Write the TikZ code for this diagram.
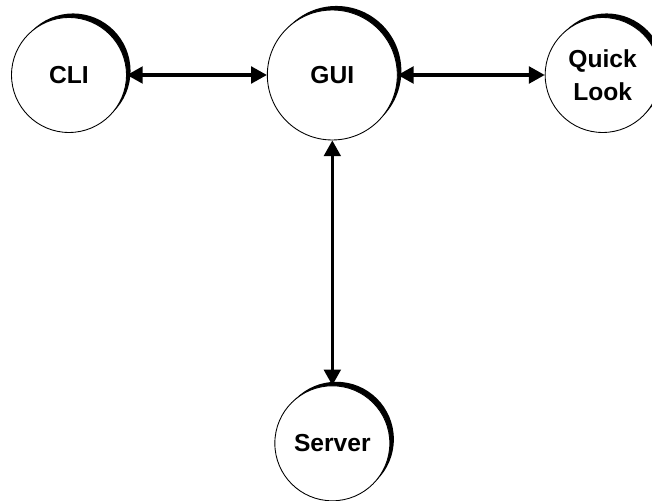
\documentclass[tikz,border=0pt]{standalone}
\usepackage{fontspec}
\setmainfont{Liberation Sans}
\usetikzlibrary{arrows.meta,positioning,shadows}

\begin{document}
\begin{tikzpicture}[
		x=0.02cm, y=-0.02cm,
		>={Triangle[length=9pt,width=9.5pt]},
		font=\fontsize{14}{18.5}\selectfont\bfseries,
		comp/.style={
			circle, draw, line width=0.5pt, fill=white,
			minimum size=2.3cm, inner sep=0pt, align=center,
			drop shadow={shadow xshift=2.3pt, shadow yshift=2.3pt, fill=black, opacity=1}
		},
		link/.style={<->, line width=1.8pt}
		]
		\useasboundingbox (0,0) rectangle (652,500);
		% ---- obere Reihe
		\node[comp]                                        (cli)    at (69,75) {CLI};
		\node[comp, minimum size=2.6cm, right=2.8cm of cli] (gui)    {GUI};
		\node[comp, right=2.94cm of gui]                   (qlook)  {Quick\\Look};
		
		% ---- unten: Server unter der GUI
		\node[comp, below=4.9cm of gui]                    (server) {Server};
		
		% ---- Verbindungen (beidseitig)
		\draw[link] (cli.east)  -- (gui.west);
		\draw[link] (gui.east)  -- (qlook.west);
		\draw[link] (gui.south) -- (server.north);
	\end{tikzpicture}
\end{document}
